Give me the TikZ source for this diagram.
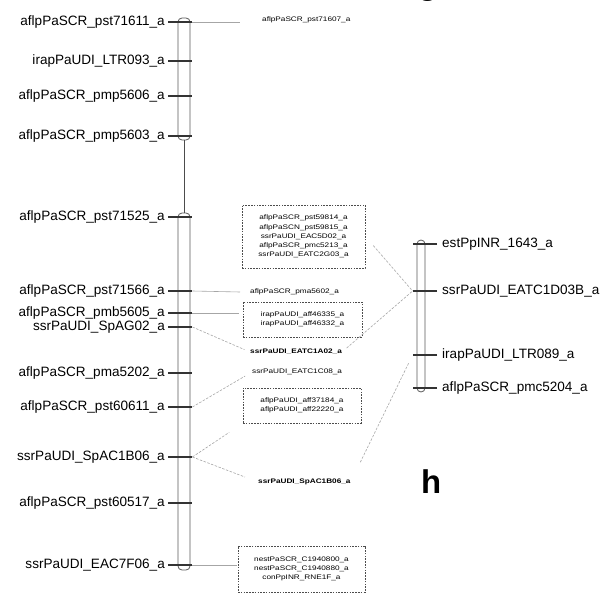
\documentclass[tikz,border=0pt]{standalone}
\usepackage{fontspec}
\setmainfont{Liberation Sans}
\newfontfamily\smallf[FakeStretch=1.25]{Liberation Sans}
\usetikzlibrary{calc}
\tikzset{
  lbl/.style={font=\fontsize{13.6}{15}\selectfont, inner sep=0pt, text=black},
  sm/.style={font=\smallf\fontsize{6.6}{9.2}\selectfont, inner sep=0pt, align=center, text=black},
  smb/.style={font=\smallf\bfseries\fontsize{6.6}{9.2}\selectfont, inner sep=0pt, text=black},
  chrom/.style={draw=black!65, line width=0.8pt, fill=white, rounded corners=4bp, inner sep=0pt},
  tickl/.style={draw=black!80, line width=1.1pt},
  link/.style={draw=black!35, line width=0.6pt},
  dlink/.style={draw=black!35, line width=0.6pt, dash pattern=on 2.5pt off 1.5pt},
  dbox/.style={draw=black!70, line width=0.9pt, dash pattern=on 1.6pt off 1.2pt, inner sep=0pt, align=center,
               font=\smallf\fontsize{6.6}{9.2}\selectfont, text=black},
  panel/.style={font=\bfseries\fontsize{33}{36}\selectfont, inner sep=0pt}
}
\begin{document}
\begin{tikzpicture}[x=1bp,y=-1bp]
\useasboundingbox (0,0) rectangle (602,599);
\fill[white] (0,0) rectangle (602,599);

% chromosomes
\node[chrom, minimum width=12bp, minimum height=122bp] (c1) at (184,79) {};
\node[chrom, minimum width=12bp, minimum height=357bp] (c2) at (184,391.5) {};
\node[chrom, minimum width=8bp, minimum height=152bp] (c3) at (421,316) {};
\draw[draw=black!70, line width=1pt] (c1.south) -- (c2.north);

% left labels
\foreach \n/\y/\t in {L1/22/aflpPaSCR\_pst71611\_a, L2/61/irapPaUDI\_LTR093\_a,
  L3/96/aflpPaSCR\_pmp5606\_a, L4/136/aflpPaSCR\_pmp5603\_a,
  L5/217/aflpPaSCR\_pst71525\_a, L6/291/aflpPaSCR\_pst71566\_a,
  L7/313/aflpPaSCR\_pmb5605\_a, L8/327/ssrPaUDI\_SpAG02\_a,
  L9/373/aflpPaSCR\_pma5202\_a, L10/407/aflpPaSCR\_pst60611\_a,
  L11/457/ssrPaUDI\_SpAC1B06\_a, L12/503/aflpPaSCR\_pst60517\_a,
  L13/565/ssrPaUDI\_EAC7F06\_a}{
  \node[lbl, anchor=east] (\n) at (165,\y) {\t};
  \coordinate (\n t) at ($(\n.east -| c1.east)+(2,0)$);
  \draw[tickl] ($(\n.east)+(3,0)$) -- (\n t);
}

% right labels
\foreach \n/\y/\t in {R1/244/estPpINR\_1643\_a, R2/291/ssrPaUDI\_EATC1D03B\_a,
  R3/355/irapPaUDI\_LTR089\_a, R4/388/aflpPaSCR\_pmc5204\_a}{
  \node[lbl, anchor=west] (\n) at (442,\y) {\t};
  \coordinate (\n t) at ($(\n.west -| c3.west)+(-4,0)$);
  \draw[tickl] ($(\n.west)+(-5,0)$) -- (\n t);
}

% middle items
\node[sm, anchor=west] (m1) at (262,20) {aflpPaSCR\_pst71607\_a};
\node[dbox, minimum width=123bp, minimum height=63bp] (b1) at (303.5,236.5)
  {aflpPaSCR\_pst59814\_a\\aflpPaSCN\_pst59815\_a\\ssrPaUDI\_EAC5D02\_a\\aflpPaSCR\_pmc5213\_a\\ssrPaUDI\_EATC2G03\_a};
\node[sm, anchor=west] (m2) at (250,292) {aflpPaSCR\_pma5602\_a};
\node[dbox, minimum width=119bp, minimum height=35bp] (b2) at (302.5,319.5)
  {irapPaUDI\_aff46335\_a\\irapPaUDI\_aff46332\_a};
\node[smb, anchor=west] (m3) at (250,352) {ssrPaUDI\_EATC1A02\_a};
\node[sm, anchor=west] (m4) at (252,372) {ssrPaUDI\_EATC1C08\_a};
\node[dbox, minimum width=118bp, minimum height=35bp] (b3) at (302,405.5)
  {aflpPaUDI\_aff37184\_a\\aflpPaUDI\_aff22220\_a};
\node[smb, anchor=west] (m5) at (258,482) {ssrPaUDI\_SpAC1B06\_a};
\node[dbox, minimum width=127bp, minimum height=46bp] (b4) at (301.5,569)
  {nestPaSCR\_C1940800\_a\\nestPaSCR\_C1940880\_a\\conPpINR\_RNE1F\_a};

% connectors
\draw[link] (L1t) -- ($(m1.west)+(-22,2)$) coordinate (m1e);
\draw[link] (L6t) -- ($(m2.west)+(-10,0)$);
\draw[link] (L7t) -- ($(L7t -| b2.west)+(-4,0)$);
\draw[link] (L13t) -- ($(L13t -| b4.west)+(-1,0)$);
\draw[dlink, shorten >=6bp] (L8t) -- (m3.west);
\draw[dlink, shorten <=6bp] (m3.east) -- (R2t);
\draw[dlink, shorten <=12bp] (b1.east) -- (R2t);
\draw[dlink, shorten >=8bp] (L10t) -- (m4.west);
\draw[dlink, shorten >=16bp] (L11t) -- (b3.south west);
\draw[dlink, shorten >=14bp] (L11t) -- (m5.west);
\draw[dlink, shorten <=22bp, shorten >=8bp] (m5.east) -- (R3t);

% panel letters (the reference shows only the lower part of g, cut by the top edge)
\node[panel, anchor=base] (g) at (428,-5) {g};
\node[panel, anchor=base west] (h) at (421,493) {h};
\end{tikzpicture}
\end{document}
